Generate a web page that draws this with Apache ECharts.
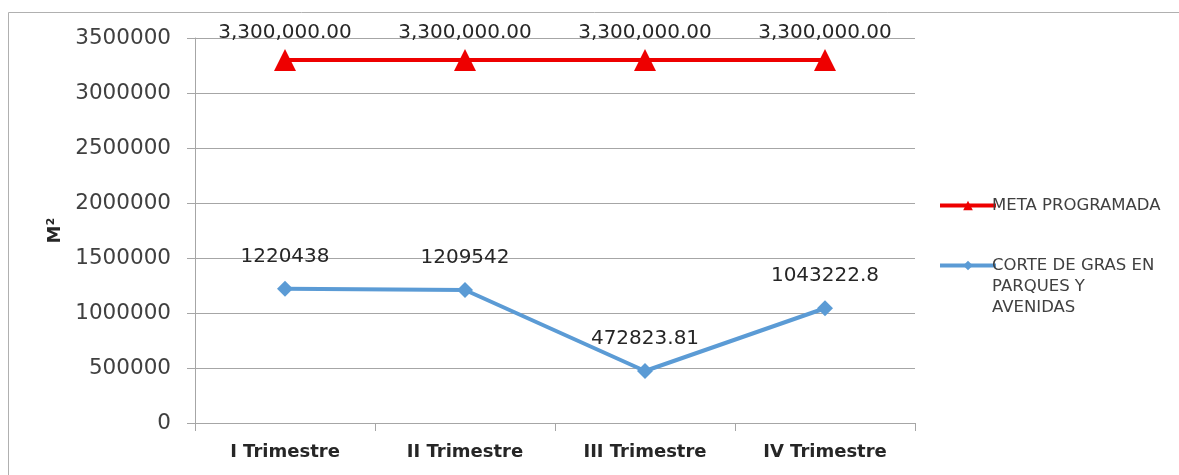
<!DOCTYPE html>
<html>
<head>
<meta charset="utf-8">
<script src="https://cdn.jsdelivr.net/npm/echarts@6/dist/echarts.min.js"></script>
<style>
  html, body { margin: 0; padding: 0; background: #fff; }
  #chart { width: 1179px; height: 475px; }
</style>
</head>
<body>
<div id="chart"></div>
<script>
"use strict";

const CATEGORIES = ["I Trimestre", "II Trimestre", "III Trimestre", "IV Trimestre"];
const META = [3300000, 3300000, 3300000, 3300000];
const CORTE = [1220438, 1209542, 472823.81, 1043222.8];
const META_NAME = "META PROGRAMADA";
const CORTE_NAME = "CORTE DE GRAS EN PARQUES Y AVENIDAS";

const FONT = "DejaVu Sans, sans-serif";
const TEXT = "#404040";
const GRID = "#a6a6a6";

const fmtMeta = v => v.toLocaleString("en-US", { minimumFractionDigits: 2, maximumFractionDigits: 2 });

const chart = echarts.init(document.getElementById("chart"), null, { renderer: "canvas" });
chart.setOption({
  animation: false,
  textStyle: { fontFamily: FONT },
  grid: { left: 195, right: 264, top: 38, bottom: 52 },
  graphic: [{
    type: "rect", silent: true,
    shape: { x: 8.5, y: 12.5, width: 1200, height: 500 },
    style: { fill: "none", stroke: "#b0b0b0", lineWidth: 1 }
  }],
  legend: {
    orient: "vertical", left: 933, top: 190, itemGap: -3,
    itemWidth: 56, itemHeight: 12,
    lineStyle: { width: 4 },
    textStyle: { fontFamily: FONT, fontSize: 16.5, color: TEXT, lineHeight: 21, padding: [0, 0, 0, -9] },
    data: [META_NAME, CORTE_NAME],
    // leading blank lines keep the icon level with the first text line
    formatter: n => n === CORTE_NAME ? "\n\nCORTE DE GRAS EN\nPARQUES Y\nAVENIDAS" : n
  },
  xAxis: {
    type: "category", data: CATEGORIES, boundaryGap: true,
    axisLine: { lineStyle: { color: GRID, width: 1 } },
    axisTick: { show: true, length: 8, lineStyle: { color: GRID } },
    axisLabel: { color: "#262626", fontSize: 18, fontWeight: "bold", margin: 20, fontFamily: FONT }
  },
  yAxis: {
    type: "value", min: 0, max: 3500000, interval: 500000,
    name: "M²", nameLocation: "middle", nameGap: 124, nameRotate: 90,
    nameTextStyle: { color: "#262626", fontSize: 18, fontWeight: "bold", fontFamily: FONT },
    axisLine: { show: true, lineStyle: { color: GRID } },
    axisTick: { show: true, length: 8, lineStyle: { color: GRID } },
    axisLabel: { color: TEXT, fontSize: 21.5, margin: 24, fontFamily: FONT, formatter: v => String(v) },
    splitLine: { lineStyle: { color: GRID, width: 1 } }
  },
  series: [
    {
      name: META_NAME, type: "line", data: META,
      symbol: "triangle", symbolSize: 22,
      lineStyle: { color: "#ee0000", width: 4 },
      itemStyle: { color: "#ee0000" },
      label: {
        show: true, position: "top", distance: 6,
        color: "#262626", fontSize: 20, fontFamily: FONT,
        formatter: p => fmtMeta(p.value)
      }
    },
    {
      name: CORTE_NAME, type: "line", data: CORTE,
      symbol: "diamond", symbolSize: 16,
      lineStyle: { color: "#5b9bd5", width: 4 },
      itemStyle: { color: "#5b9bd5" },
      label: {
        show: true, position: "top", distance: 14,
        color: "#262626", fontSize: 20, fontFamily: FONT,
        formatter: p => String(p.value)
      }
    }
  ]
});
</script>
</body>
</html>
